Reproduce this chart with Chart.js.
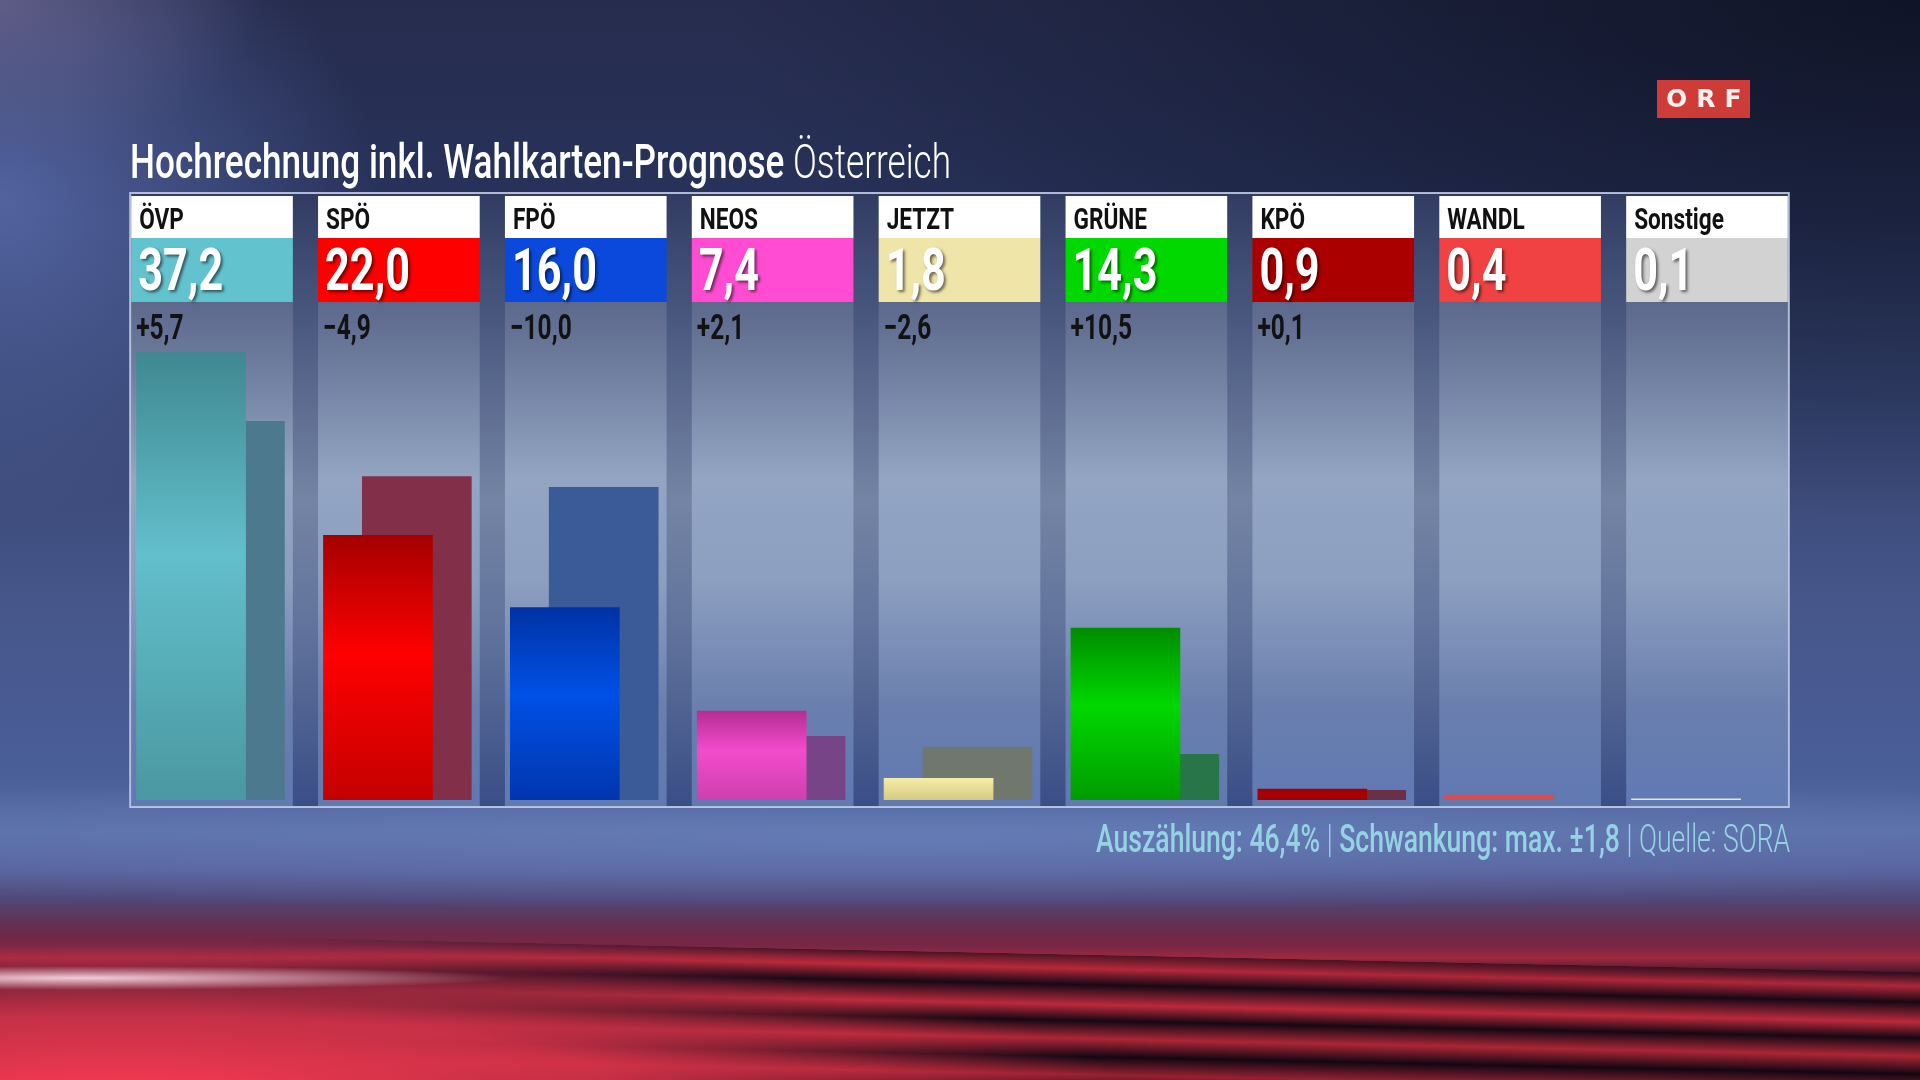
<!DOCTYPE html>
<html lang="de">
<head>
<meta charset="utf-8">
<title>Hochrechnung inkl. Wahlkarten-Prognose Österreich</title>
<script src="https://cdn.jsdelivr.net/npm/chart.js@4.4.1/dist/chart.umd.min.js"></script>
<style>
  html, body { margin: 0; padding: 0; }
  body {
    width: 1920px; height: 1080px; overflow: hidden; position: relative;
    font-family: Roboto, "Noto Sans", sans-serif;
    background:
      radial-gradient(ellipse 260px 160px at 0px 0px, rgba(125,115,155,0.55), rgba(125,115,155,0) 100%),
      radial-gradient(ellipse 380px 320px at 0px 200px, rgba(110,132,205,0.6), rgba(110,132,205,0) 100%),
      radial-gradient(ellipse 1200px 520px at 1920px 0px, rgba(8,12,26,0.75), rgba(8,12,26,0) 100%),
      radial-gradient(ellipse 1500px 70px at 900px 840px, rgba(110,135,195,0.55), rgba(110,135,195,0) 100%),
      linear-gradient(180deg, #262c4e 0px, #28325a 200px, #34426e 400px, #46568a 600px, #4a5e98 780px, #5a6ea6 830px, #56609a 870px, #504878 900px, #4a2a4c 935px, #34162c 975px, #1e0c1c 1080px);
  }
  #haze {
    position: absolute; left: 0; top: 900px; width: 1920px; height: 80px;
    background: linear-gradient(180deg, rgba(150,40,80,0) 0px, rgba(160,40,70,0.55) 45px, rgba(200,45,65,0.7) 58px, rgba(60,15,35,0.4) 75px, rgba(60,15,35,0) 80px);
  }
  #streaks {
    position: absolute; left: 250px; top: 955px; width: 1700px; height: 140px;
    transform: skewY(1.2deg);
    -webkit-mask-image: linear-gradient(to right, rgba(0,0,0,0) 0%, #000 35%);
    mask-image: linear-gradient(to right, rgba(0,0,0,0) 0%, #000 35%);
    background: linear-gradient(180deg, rgba(20,8,20,0.6) 0px, rgba(205,44,62,0.8) 14px, rgba(22,8,20,0.92) 30px, rgba(212,46,64,0.85) 50px, rgba(20,8,18,0.92) 66px, rgba(205,44,60,0.8) 84px, rgba(18,7,18,0.94) 102px, rgba(190,40,56,0.75) 120px, rgba(18,7,18,0.94) 140px);
  }
  #glow {
    position: absolute; left: 0; top: 900px; width: 1920px; height: 180px;
    background:
      radial-gradient(ellipse 430px 12px at 80px 78px, rgba(255,222,236,0.9), rgba(255,222,236,0) 100%),
      radial-gradient(ellipse 1000px 150px at 120px 190px, rgba(246,58,82,1), rgba(246,58,82,0.75) 50%, rgba(246,58,82,0) 100%);
  }
  #chart { position: absolute; left: 0; top: 0; }
  .txt { position: absolute; white-space: nowrap; line-height: 1; }
  #title { left: 130px; top: 138px; font-size: 48px; color: #ffffff; transform-origin: 0 0; }
  #title .b { font-weight: 500; }
  #title .l { font-weight: 300; }
  #footer { right: 130px; top: 820px; font-size: 38px; color: #95d3e3; transform-origin: 100% 0; }
  #footer .b { font-weight: 500; }
  #footer .l { font-weight: 300; }
  #orf {
    position: absolute; left: 1657px; top: 80px; width: 93px; height: 38px;
    background: #cf3b37; color: #f4f0ee; font-family: "DejaVu Sans", sans-serif;
    font-weight: bold; font-size: 25px; line-height: 38px; text-align: center; letter-spacing: 9px;
    text-indent: 9px;
  }
</style>
</head>
<body>
<div id="haze"></div>
<div id="streaks"></div>
<div id="glow"></div>
<canvas id="chart" width="1920" height="1080"></canvas>
<div id="title" class="txt"><span class="b">Hochrechnung inkl. Wahlkarten-Prognose</span> <span class="l">Österreich</span></div>
<div id="footer" class="txt"><span class="b">Auszählung: 46,4% <span class="l">|</span> Schwankung: max. ±1,8</span> <span class="l">| Quelle: SORA</span></div>
<div id="orf">ORF</div>
<script>
// Hochrechnung 2019 (ORF/SORA), Werte in Prozent
const parties = ['ÖVP', 'SPÖ', 'FPÖ', 'NEOS', 'JETZT', 'GRÜNE', 'KPÖ', 'WANDL', 'Sonstige'];
const results = [37.2, 22.0, 16.0, 7.4, 1.8, 14.3, 0.9, 0.4, 0.1];
const previous = [31.5, 26.9, 26.0, 5.3, 4.4, 3.8, 0.8, null, null];
const changes = [5.7, -4.9, -10.0, 2.1, -2.6, 10.5, 0.1, null, null];

// Farben
const bandColors = ['#62c3cf', '#fe0000', '#0a49dc', '#ff4cd2', '#f0e5a8', '#00d800', '#aa0000', '#f04242', '#d2d2d2'];
const barColors = [
  ['#3f8890', '#62bfcc', '#4a98a0'],
  ['#a40000', '#ff0000', '#c40000'],
  ['#0032a4', '#0050e6', '#0036ae'],
  ['#b82c94', '#f24ccc', '#cc40ae'],
  ['#f4eca8', '#e8dc98', '#d6ca80'],
  ['#008c00', '#00d800', '#009c00'],
  ['#a00000', '#aa0000', '#a00000'],
  ['#e04a4a', '#e04a4a', '#e04a4a'],
  ['#e4eaf2', '#e4eaf2', '#e4eaf2']
];
const prevColors = ['#4c798d', '#82304a', '#3a5a98', '#784488', '#70786e', '#277548', '#6a3048', '#555', '#555'];

const BAR_W = 109;
const MAIN_SHIFT = -0.112;
const PREV_SHIFT = 0.096;

function fmt(v) {
  return v.toFixed(1).replace('.', ',');
}
function fmtChange(v) {
  if (v === null) return '';
  return (v >= 0 ? '+' : '\u2212') + fmt(Math.abs(v));
}

function barGradient(context, i, stops) {
  const chart = context.chart;
  const y = chart.scales.y;
  if (!y || results[i] === null) return stops[1];
  const top = y.getPixelForValue(results[i]);
  const base = y.getPixelForValue(0);
  if (!isFinite(top) || !isFinite(base) || base - top < 2) return stops[1];
  const g = chart.ctx.createLinearGradient(0, top, 0, base);
  g.addColorStop(0, stops[0]);
  g.addColorStop(0.45, stops[1]);
  g.addColorStop(1, stops[2]);
  return g;
}

function condText(ctx, str, x, y, font, color, sx) {
  ctx.save();
  ctx.translate(x, y);
  ctx.scale(sx, 1);
  ctx.font = font;
  ctx.fillStyle = color;
  ctx.textBaseline = 'alphabetic';
  ctx.textAlign = 'left';
  ctx.fillText(str, 0, 0);
  ctx.restore();
}

const panelPlugin = {
  id: 'orfPanel',
  beforeDatasetsDraw(chart) {
    const { ctx, chartArea: a, scales: { x } } = chart;
    const pitch = x.getPixelForValue(1) - x.getPixelForValue(0);
    const colW = pitch * 0.865;
    const panelL = x.getPixelForValue(0) - colW / 2 - 1;
    const panelR = x.getPixelForValue(parties.length - 1) + colW / 2 + 1;
    const panelT = 193, panelB = a.bottom + 7;
    const headT = 196, bandT = 238, bandB = 302;

    ctx.save();
    // Hintergrund der Zwischenräume
    let g = ctx.createLinearGradient(0, panelT, 0, panelB);
    g.addColorStop(0, '#323c62');
    g.addColorStop(0.18, '#46547c');
    g.addColorStop(0.5, '#7384a4');
    g.addColorStop(0.7, '#62749c');
    g.addColorStop(1, '#3a4e86');
    ctx.fillStyle = g;
    ctx.fillRect(panelL, panelT, panelR - panelL, panelB - panelT);

    // Spalten
    g = ctx.createLinearGradient(0, bandB, 0, panelB);
    g.addColorStop(0, '#5c688c');
    g.addColorStop(0.1, '#6a789a');
    g.addColorStop(0.35, '#93a5c3');
    g.addColorStop(0.55, '#8c9fc0');
    g.addColorStop(0.8, '#6a7fae');
    g.addColorStop(1, '#6079b2');
    parties.forEach((p, i) => {
      const cx = x.getPixelForValue(i);
      const left = cx - colW / 2;
      ctx.fillStyle = g;
      ctx.fillRect(left, bandB, colW, panelB - 1 - bandB);
      ctx.fillStyle = '#ffffff';
      ctx.fillRect(left, headT, colW, bandT - headT);
      ctx.fillStyle = bandColors[i];
      ctx.fillRect(left, bandT, colW, bandB - bandT);

      condText(ctx, p, left + 8, 229, 'bold 29px Roboto', '#111111', 0.78);

      ctx.save();
      ctx.shadowColor = 'rgba(0,0,0,0.55)';
      ctx.shadowOffsetX = 2;
      ctx.shadowOffsetY = 2;
      ctx.shadowBlur = 3;
      condText(ctx, fmt(results[i]), left + 7, 290, 'bold 60px Roboto', '#ffffff', 0.72);
      ctx.restore();

      condText(ctx, fmtChange(changes[i]), left + 5, 339, 'bold 35px Roboto', '#121212', 0.7);
    });

    // Rahmen
    ctx.strokeStyle = 'rgba(200,210,236,0.85)';
    ctx.lineWidth = 2;
    ctx.strokeRect(panelL, panelT, panelR - panelL, panelB - panelT);
    ctx.restore();
  }
};

const chart = new Chart(document.getElementById('chart'), {
  type: 'bar',
  data: {
    datasets: [
      {
        label: 'Hochrechnung',
        data: results.map((v, i) => ({ x: i + MAIN_SHIFT, y: v })),
        backgroundColor: c => barGradient(c, c.dataIndex, barColors[c.dataIndex]),
        grouped: false,
        barThickness: BAR_W,
        borderWidth: 0
      },
      {
        label: 'Wahl 2017',
        data: previous.map((v, i) => ({ x: i + PREV_SHIFT, y: v })),
        backgroundColor: prevColors,
        grouped: false,
        barThickness: BAR_W,
        borderWidth: 0
      }
    ]
  },
  options: {
    responsive: false,
    devicePixelRatio: 1,
    animation: false,
    layout: { padding: { left: 131, right: 132, top: 319, bottom: 280 } },
    scales: {
      x: { type: 'linear', offset: false, min: -0.4335, max: 8.4335, display: false },
      y: { min: 0, max: 40, display: false }
    },
    plugins: { legend: { display: false }, tooltip: { enabled: false } }
  },
  plugins: [panelPlugin]
});

// Titel und Fußzeile auf die Breite im Original bringen
function fit(id, width) {
  const el = document.getElementById(id);
  const w = el.getBoundingClientRect().width;
  el.style.transform = 'scaleX(' + (width / w) + ')';
}
fit('title', 821);
fit('footer', 694);
</script>
</body>
</html>
